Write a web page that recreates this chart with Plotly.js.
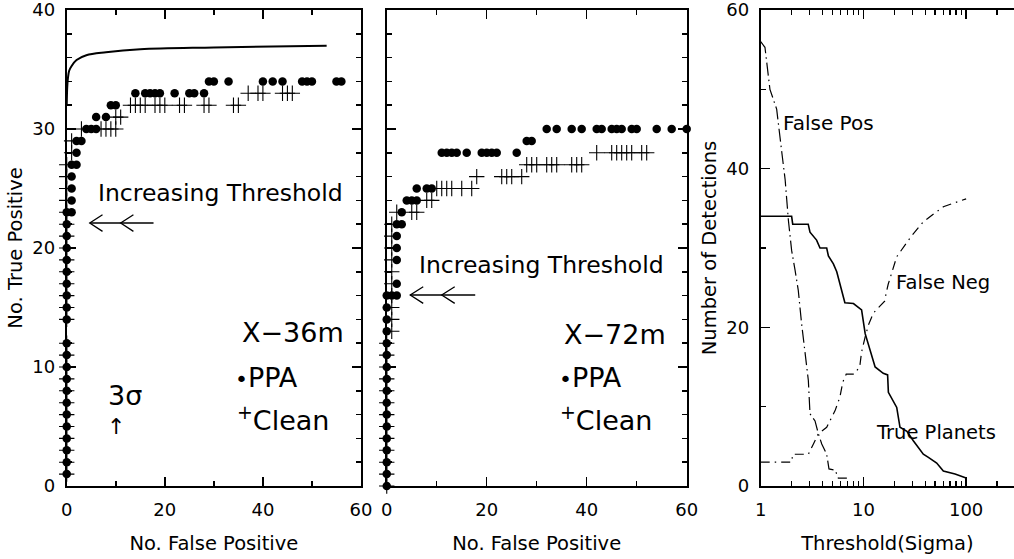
<!DOCTYPE html>
<html><head><meta charset="utf-8">
<script src="https://cdn.plot.ly/plotly-3.0.1.min.js"></script>
<style>html,body{margin:0;padding:0;background:#fff}</style>
</head><body><div id="chart" style="width:1014px;height:559px"></div>
<script>
// ---------- Panel 1: X-36m ----------
const ppa36X = [0,0,0,0,0,0,0,0,0,0,0,0, 0,0,0,0,0,0,0,0,0,0, 1,1,1,1,1, 2,2,2, 3, 4,5,6, 6,8, 9,10, 14,16,17,18,19,22,25,26,28, 29,30,33,40,42,44,48,49,50,55,56];
const ppa36Y = [1,2,3,4,5,6,7,8,9,10,11,12, 14,15,16,17,18,19,20,21,22,23, 23,24,25,26,27, 27,28,29, 29, 30,30,30, 31,31, 32,32, 33,33,33,33,33,33,33,33,33, 34,34,34,34,34,34,34,34,34,34,34];
const clean36X = [0,0,0,0,0,0,0,0,0,0,0,0, 0,0,0,0,0,0,0,0,0,0,0,0,0,0, 1,1, 3,7,8,9,10, 10,11, 13,14,15,16,18,19,20,23,24,28,29,34,35, 37,39,40,44,45,46];
const clean36Y = [1,2,3,4,5,6,7,8,9,10,11,12, 14,15,16,17,18,19,20,21,22,23,24,25,26,27, 28,29, 30,30,30,30,30, 31,31, 32,32,32,32,32,32,32,32,32,32,32,32,32, 33,33,33,33,33,33];
const curve36X = [0, 0.1, 0.25, 0.5, 1, 2, 4, 8, 15, 30, 53];
const curve36Y = [32, 33.5, 34.3, 34.9, 35.3, 35.8, 36.2, 36.45, 36.7, 36.85, 37.0];

// ---------- Panel 2: X-72m ----------
const ppa72X = [0,0,0,0,0,0,0,0,0,0,0,0,0,0,0,0,0, 1,2, 2, 2,2,2, 2,3, 3, 4,5,6, 6,8,9, 11,12,13,14,16,19,20,21,22,26, 28,29, 32,34,37,39,42,43,45,46,47,49,50,54,57,60];
const ppa72Y = [0,1,2,3,4,5,6,7,8,9,10,11,12,13,14,15,16, 16,16, 17, 19,20,21, 22,22, 23, 24,24,24, 25,25,25, 28,28,28,28,28,28,28,28,28,28, 29,29, 30,30,30,30,30,30,30,30,30,30,30,30,30,30];
const clean72X = [0,0,0,0,0,0,0,0,0,0,0,0,0, 1,1,1,1,1,1,1,1,1,1, 2,5,6, 8,9, 10,11,12,13,15,17, 18,23,24,25,27, 28,29,30,32,33,34,37,38,39, 42,45,46,47,48,49,51,52];
const clean72Y = [0,1,2,3,4,5,6,7,8,9,10,11,12, 13,14,15,16,17,18,19,20,21,22, 23,23,23, 24,24, 25,25,25,25,25,25, 26,26,26,26,26, 27,27,27,27,27,27,27,27,27, 28,28,28,28,28,28,28,28];

// ---------- Panel 3: counts vs threshold ----------
const tpX = [1, 2, 2.05, 2.9, 3.02, 3.5, 3.78, 4.39, 4.56, 5.1, 5.5, 5.9, 6.6, 8.0, 9.6, 10.4, 11.6, 13, 15.6, 17.2, 17.5, 21.1, 22.7, 26.5, 30.6, 38.3, 42.9, 51.7, 60, 78, 100];
const tpY = [34, 34, 33, 33, 32, 31, 30, 30, 29, 28, 27, 25.5, 23.1, 23.0, 22.2, 19.2, 17.1, 15.0, 14.2, 14.0, 11.8, 9.9, 7.4, 6.9, 5.7, 4.0, 3.6, 2.9, 1.9, 1.5, 1];
const fpX = [1, 1.1, 1.23, 1.43, 1.6, 1.73, 1.86, 2.0, 2.16, 2.32, 2.5, 2.7, 2.91, 3.02, 3.38, 3.64, 3.93, 4.39, 4.62, 5.3, 5.7, 6.9];
const fpY = [56, 55.3, 50, 47.5, 42.2, 38.6, 33.5, 29.7, 27.2, 24.7, 20.5, 17.1, 13.3, 9.1, 8.2, 6.6, 5.3, 4.0, 2.15, 2.0, 1.0, 1.0];
const fnX = [1, 2.0, 2.05, 2.91, 3.26, 3.64, 4.39, 4.9, 5.3, 5.9, 6.3, 6.8, 8.1, 9.2, 9.6, 10.4, 11.2, 12.5, 14.4, 16.1, 16.7, 17.4, 21.1, 29.3, 38.3, 60, 100];
const fnY = [3, 3, 4, 4, 5.3, 6.6, 7.4, 8.6, 9.5, 11.2, 13.1, 14.1, 14.1, 15, 16.9, 18.8, 20.3, 21.8, 22.6, 23.3, 24.4, 25.4, 28.9, 31.5, 33.3, 35.2, 36.2];

const FONT = 'DejaVu Sans, Liberation Sans, sans-serif';
const BLACK = '#000';

function dotTrace(x, y, xa, ya) {
  return {x, y, xaxis: xa, yaxis: ya, type: 'scatter', mode: 'markers', cliponaxis: false,
    marker: {symbol: 'circle', size: 8.5, color: BLACK}, showlegend: false, hoverinfo: 'skip'};
}
function crossTrace(x, y, xa, ya) {
  return {x, y, xaxis: xa, yaxis: ya, type: 'scatter', mode: 'markers', cliponaxis: false,
    marker: {symbol: 'cross-thin-open', size: 11, color: BLACK, line: {width: 1.1, color: BLACK}},
    showlegend: false, hoverinfo: 'skip'};
}
function lineTrace(x, y, xa, ya, dash, width, shape) {
  return {x, y, xaxis: xa, yaxis: ya, type: 'scatter', mode: 'lines', cliponaxis: true,
    line: {color: BLACK, width, dash, shape: shape || 'linear'}, showlegend: false, hoverinfo: 'skip'};
}

const data = [
  lineTrace(curve36X, curve36Y, 'x', 'y', 'solid', 2, 'spline'),
  crossTrace(clean36X, clean36Y, 'x', 'y'),
  dotTrace(ppa36X, ppa36Y, 'x', 'y'),
  crossTrace(clean72X, clean72Y, 'x2', 'y2'),
  dotTrace(ppa72X, ppa72Y, 'x2', 'y2'),
  lineTrace(tpX, tpY, 'x3', 'y3', 'solid', 1.6),
  lineTrace(fpX, fpY, 'x3', 'y3', '13px,4px,1.5px,4px', 1.2),
  lineTrace(fnX, fnY, 'x3', 'y3', '9px,5px,1.5px,5px', 1.2)
];

const tickFont = {family: FONT, size: 18, color: BLACK};
const titleFont = {family: FONT, size: 19.5, color: BLACK};
const yDom = [0.1306, 0.9821];

function linAxis(domain, range, dtick, minorDtick, anchor, showLabels, title, standoff) {
  return {
    domain, range, anchor, dtick, tick0: 0, tickmode: 'linear',
    showticklabels: showLabels, tickfont: tickFont, ticklabeloverflow: 'allow',
    ticks: 'inside', ticklen: 9, tickwidth: 1.5, tickcolor: BLACK,
    minor: {ticks: 'inside', ticklen: 5, tickwidth: 1.5, tickcolor: BLACK, dtick: minorDtick, tick0: 0, showgrid: false},
    showline: true, linewidth: 2, linecolor: BLACK, mirror: 'ticks',
    showgrid: false, zeroline: false, fixedrange: true,
    ticklabelstandoff: 6,
    title: title ? {text: title, font: titleFont, standoff: standoff} : undefined
  };
}

const layout = {
  width: 1014, height: 559,
  margin: {l: 0, r: 0, t: 0, b: 0},
  paper_bgcolor: '#fff', plot_bgcolor: '#fff',
  showlegend: false,
  font: {family: FONT, color: BLACK},
  xaxis: linAxis([0.0658, 0.356], [0, 60], 20, 10, 'y', true, 'No. False Positive', 18),
  yaxis: linAxis(yDom, [0, 40], 10, 2, 'x', true, 'No. True Positive', 4),
  xaxis2: linAxis([0.3814, 0.6772], [0, 60], 20, 10, 'y2', true, 'No. False Positive', 18),
  yaxis2: linAxis(yDom, [0, 40], 10, 2, 'x2', false, null),
  xaxis3: {
    domain: [0.7502, 1], type: 'log', range: [0, 2.466], anchor: 'y3',
    tickmode: 'array', tickvals: [1, 10, 100], ticktext: ['1', '10', '100'],
    tickfont: tickFont, ticklabeloverflow: 'allow', ticks: 'inside', ticklen: 9, tickwidth: 1.5, tickcolor: BLACK,
    minor: {ticks: 'inside', ticklen: 5, tickwidth: 1.5, tickcolor: BLACK, tickmode: 'array',
      tickvals: [2,3,4,5,6,7,8,9,20,30,40,50,60,70,80,90,200], showgrid: false},
    showline: true, linewidth: 2, linecolor: BLACK, mirror: 'ticks',
    showgrid: false, zeroline: false, fixedrange: true, ticklabelstandoff: 6,
    title: {text: 'Threshold(Sigma)', font: titleFont, standoff: 18}
  },
  yaxis3: Object.assign(linAxis(yDom, [0, 60], 20, 10, 'x3', true, 'Number of Detections', 4), {mirror: false}),
  annotations: [],
  shapes: []
};

function txt(text, x, y, xref, yref, size, xanchor) {
  layout.annotations.push({text, x, y, xref, yref, showarrow: false, xanchor: xanchor || 'left', yanchor: 'middle',
    font: {family: FONT, size, color: BLACK}});
}
// Panel 1 labels
txt('Increasing Threshold', 6.0, 24.6, 'x', 'y', 23.5);
txt('X\u221236m', 35.4, 12.9, 'x', 'y', 27);
txt('<span style="font-size:22px">\u2022</span>PPA', 34.0, 9.1, 'x', 'y', 27);
txt('<sup>+</sup>Clean', 34.3, 5.7, 'x', 'y', 27);
txt('3\u03c3', 11.9, 7.6, 'x', 'y', 27, 'center');
txt('\u2191', 10.1, 5.0, 'x', 'y', 22, 'center');
// Panel 2 labels
txt('Increasing Threshold', 6.1, 18.6, 'x2', 'y2', 23.5);
txt('X\u221272m', 35.1, 12.7, 'x2', 'y2', 27);
txt('<span style="font-size:22px">\u2022</span>PPA', 34.0, 9.1, 'x2', 'y2', 27);
txt('<sup>+</sup>Clean', 34.3, 5.7, 'x2', 'y2', 27);
// Panel 3 labels (x in log10 units)
txt('False Pos', 0.2, 45.8, 'x3', 'y3', 20);
txt('False Neg', 1.3, 25.7, 'x3', 'y3', 19.5);
txt('True Planets', 1.105, 6.7, 'x3', 'y3', 19.5);

// Double open arrowheads "<<" pointing to lower thresholds
function arrow(xref, yref, tip, tip2, end, y, dx, dy) {
  const st = {type: 'path', xref, yref, line: {color: BLACK, width: 1.3}};
  layout.shapes.push(Object.assign({path: `M ${tip} ${y} L ${end} ${y}`}, st));
  layout.shapes.push(Object.assign({path: `M ${tip + dx} ${y + dy} L ${tip} ${y} L ${tip + dx} ${y - dy}`}, st));
  layout.shapes.push(Object.assign({path: `M ${tip2 + dx} ${y + dy} L ${tip2} ${y} L ${tip2 + dx} ${y - dy}`}, st));
}
arrow('x', 'y', 4.7, 11.0, 17.7, 22.1, 2.6, 0.7);
arrow('x2', 'y2', 4.7, 11.0, 17.7, 16.05, 2.6, 0.7);

Plotly.newPlot('chart', data, layout, {staticPlot: true, displayModeBar: false});
</script>
</body></html>
